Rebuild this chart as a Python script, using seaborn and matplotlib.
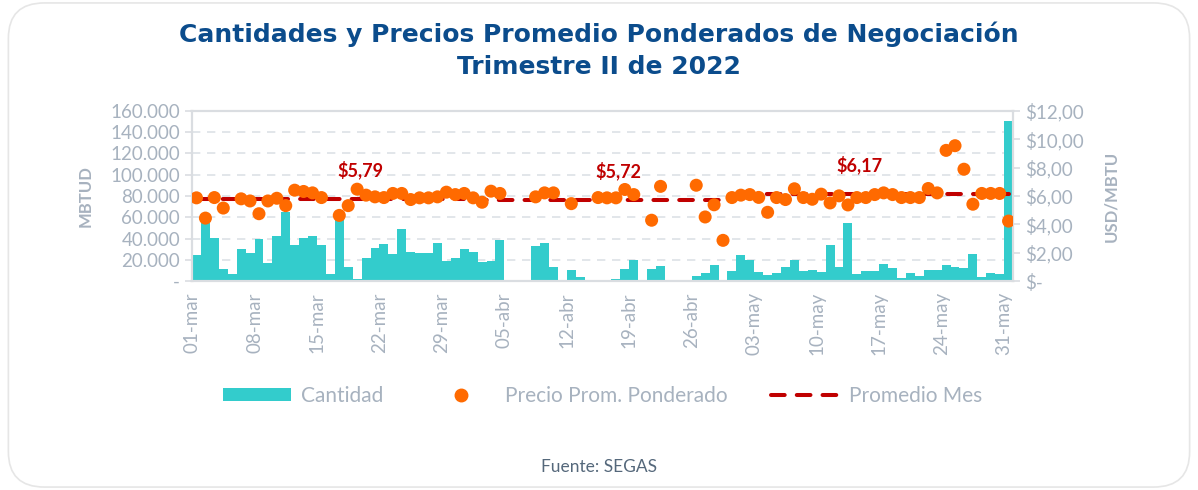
import numpy as np
import pandas as pd
import seaborn as sns
import matplotlib.pyplot as plt
from matplotlib.patches import FancyBboxPatch
from matplotlib.lines import Line2D
from matplotlib.patches import Patch

sns.set_style("white")
plt.rcParams["font.family"] = ["Lato", "DejaVu Sans"]

# ---- data ----
# one value per day, 01-mar .. 31-may (92 days)
cantidad = [
    24200, 55000, 40600, 11600, 6600, 29900, 26100, 39300, 17300, 42800,
    65100, 34300, 40300, 42500, 33600, 6300, 58200, 13500, 1900, 22000,
    31400, 34600, 25200, 48700, 27000, 26700, 26100, 35500, 18900, 21400,
    30500, 27400, 17600, 18900, 39000, 800, 800, 800, 33000, 35500,
    13200, 600, 10000, 4100, 0, 0, 1000, 2200, 11600, 19800,
    0, 11000, 14200, 0, 0, 0, 4700, 7500, 15100, 0,
    9100, 24800, 19800, 8500, 6000, 7900, 13200, 20100, 9400, 10400,
    8500, 33600, 13500, 54400, 6900, 9100, 9100, 16000, 12600, 2500,
    7500, 4400, 10700, 10400, 15400, 13500, 12600, 25500, 3800, 7200,
    6300, 151000,
]
precio = [
    5.87, 4.44, 5.89, 5.15, np.nan, 5.80, 5.65, 4.75, 5.65, 5.84,
    5.32, 6.41, 6.32, 6.22, 5.89, np.nan, 4.63, 5.32, 6.48, 6.06,
    5.94, 5.89, 6.18, 6.18, 5.75, 5.87, 5.87, 5.94, 6.27, 6.10,
    6.18, 5.87, 5.56, 6.34, 6.18, np.nan, np.nan, np.nan, 5.94, 6.22,
    6.22, np.nan, 5.46, np.nan, np.nan, 5.89, 5.87, 5.87, 6.46, 6.10,
    np.nan, 4.29, 6.68, np.nan, np.nan, np.nan, 6.76, 4.52, 5.38, 2.87,
    5.89, 6.06, 6.10, 5.90, 4.85, 5.89, 5.75, 6.51, 5.89, 5.77,
    6.13, 5.51, 6.01, 5.37, 5.89, 5.89, 6.10, 6.22, 6.10, 5.89,
    5.89, 5.89, 6.53, 6.22, 9.22, 9.55, 7.89, 5.42, 6.18, 6.18,
    6.18, 4.23,
]
mes_inicio = [0, 31, 61]
mes_fin = [30, 60, 91]
promedio_mes = [5.79, 5.72, 6.17]
promedio_txt = ["$5,79", "$5,72", "$6,17"]
label_dia = [18, 47, 74]

tick_labels = ["01-mar", "08-mar", "15-mar", "22-mar", "29-mar", "05-abr", "12-abr",
               "19-abr", "26-abr", "03-may", "10-may", "17-may", "24-may", "31-may"]

df = pd.DataFrame({"dia": np.arange(len(cantidad)), "cantidad": cantidad, "precio": precio})

# ---- colors ----
teal = "#33CCCC"
orange = "#FF6A00"
red = "#C00000"
gray_txt = "#A7B2BF"
grid_c = "#DDE1E6"
dash = (3.4, 3.0)

fig = plt.figure(figsize=(11.98, 4.90), dpi=100)
card = FancyBboxPatch((0.007, 0.006), 0.986, 0.988, boxstyle="round,pad=0,rounding_size=0.03",
                      transform=fig.transFigure, facecolor="white", edgecolor="#E6E6E6",
                      linewidth=1.2, mutation_aspect=2.4, zorder=-5)
fig.patches.append(card)

ax = fig.add_axes([0.1603, 0.4265, 0.6853, 0.347])
ax.set_facecolor("none")

sns.barplot(data=df, x="dia", y="cantidad", color=teal, width=1.0, saturation=1,
            errorbar=None, linewidth=0, ax=ax, zorder=2)
ax.set_ylim(0, 160000)
ax.set_xlim(-0.5, len(cantidad) - 0.5)
ax.set_yticks(np.arange(0, 160001, 20000))
ax.set_yticklabels(["-"] + [f"{v:,}".replace(",", ".") for v in range(20000, 160001, 20000)])
ax.set_xticks(np.arange(0, len(cantidad), 7) - 0.5)
ax.set_xticklabels(tick_labels, rotation=90)
ax.grid(axis="y", color=grid_c, linestyle=(0, (5, 4)), linewidth=1.2, zorder=0)
ax.set_axisbelow(True)
ax.set_xlabel("")
ax.set_ylabel("MBTUD", fontsize=12, fontweight="bold", color=gray_txt, labelpad=12)
for s in ax.spines.values():
    s.set_color("#DADDE1")
    s.set_linewidth(1.5)
ax.tick_params(axis="both", colors="#DADDE1", length=5, width=1.2, labelcolor=gray_txt,
               labelsize=13.5)
ax.tick_params(axis="x", pad=3)

ax2 = ax.twinx()
for i in range(len(promedio_mes)):
    xs = np.arange(mes_inicio[i], mes_fin[i] + 1)
    ax2.plot(xs, [promedio_mes[i]] * len(xs), color=red, linewidth=2.9,
             dashes=dash, dash_capstyle="round", zorder=2)
    ax2.annotate(promedio_txt[i], (label_dia[i], promedio_mes[i]), xytext=(2, 21),
                 textcoords="offset points", ha="center", va="center",
                 fontsize=13, fontweight="bold", color=red)
sns.scatterplot(data=df.dropna(), x="dia", y="precio", color=orange, s=88,
                edgecolor="none", ax=ax2, zorder=3)
ax2.set_ylim(0, 12)
ax2.set_yticks(np.arange(0, 13, 2))
ax2.set_yticklabels(["$-"] + [f"${v},00" for v in range(2, 13, 2)])
ax2.set_xlim(-0.5, len(cantidad) - 0.5)
ax2.set_xlabel("")
ax2.set_ylabel("USD/MBTU", fontsize=12, fontweight="bold", color=gray_txt, labelpad=14)
for s in ax2.spines.values():
    s.set_color("#DADDE1")
    s.set_linewidth(1.5)
ax2.tick_params(axis="y", colors="#DADDE1", length=5, width=1.2, labelcolor=gray_txt,
                labelsize=13.5)

title_font = ["DejaVu Sans"]
fig.text(0.5, 0.93, "Cantidades y Precios Promedio Ponderados de Negociación",
         ha="center", va="center", fontsize=18, fontweight="bold", color="#0B4C8C",
         family=title_font)
fig.text(0.5, 0.864, "Trimestre II de 2022", ha="center", va="center",
         fontsize=18, fontweight="bold", color="#0B4C8C", family=title_font)

handles = [
    Patch(facecolor=teal, edgecolor="none"),
    Line2D([], [], color=orange, marker="o", linestyle="none", markersize=9),
    Line2D([], [], color=red, linewidth=2.9, dashes=dash, dash_capstyle="round"),
]
leg = fig.legend(handles, ["Cantidad", "Precio Prom. Ponderado", "Promedio Mes"],
                 loc="center", bbox_to_anchor=(0.503, 0.192), ncol=3, frameon=False,
                 fontsize=15, handlelength=3.3, handleheight=0.55, handletextpad=0.45,
                 columnspacing=2.1)
for t in leg.get_texts():
    t.set_color(gray_txt)

fig.text(0.5, 0.047, "Fuente: SEGAS", ha="center", va="center", fontsize=12.5, color="#55687B")

plt.savefig("out.png", dpi=100)
